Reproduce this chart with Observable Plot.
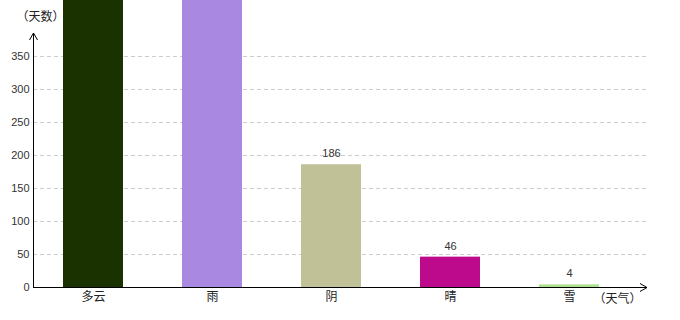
<!DOCTYPE html>
<html>
<head>
<meta charset="utf-8">
<script src="https://cdn.jsdelivr.net/npm/d3@7"></script>
<script src="https://cdn.jsdelivr.net/npm/@observablehq/plot@0.6"></script>
<style>
  html, body { margin: 0; padding: 0; background: #fff; }
  #chart { width: 680px; height: 320px; }
</style>
</head>
<body>
<div id="chart"></div>
<script>
const categories = ["多云", "雨", "阴", "晴", "雪"];
const days = [620, 480, 186, 46, 4];
const colors = ["#1a3200", "#a988e2", "#c1c198", "#bd0a8c", "#ade08e"];
const yTicks = [0, 50, 100, 150, 200, 250, 300, 350];
const yTitle = "（天数）";
const xTitle = "（天气）";

const yMax = 350;
const data = categories.map((c, i) => ({ c, v: days[i] }));
const cjk = "'Noto Sans CJK SC', sans-serif";

const plot = Plot.plot({
  width: 680,
  height: 320,
  marginLeft: 33,
  marginRight: 52,
  marginTop: 56,
  marginBottom: 33,
  style: { fontFamily: "'Liberation Sans', sans-serif", fontSize: "11px", color: "#333", background: "#fff" },
  x: { domain: categories, paddingInner: 0.5, paddingOuter: 0.25, label: null },
  y: { domain: [0, yMax], ticks: yTicks, label: null },
  color: { domain: categories, range: colors },
  marks: [
    Plot.ruleY(yTicks.slice(1), { stroke: "#cccccc", strokeDasharray: "4,3", insetRight: -18 }),
    Plot.barY(data, { x: "c", y: "v", fill: "c" }),
    // value labels of bars running past the top of the chart lie outside the picture, as in the reference
    Plot.text(data.filter(d => d.v <= yMax), { x: "c", y: "v", text: d => String(d.v), dy: -11, fill: "#333", fontSize: 11 }),
    Plot.axisY({ ticks: yTicks, tickSize: 0, tickPadding: 4, label: null, fill: "#333" }),
    Plot.axisX({ tickSize: 0, tickPadding: 5, label: null, fontFamily: cjk, fontSize: 12, fill: "#222" }),
    Plot.text([yTitle], { frameAnchor: "top-left", textAnchor: "start", dx: -17, dy: -44, fontFamily: cjk, fontSize: 12, fill: "#222" }),
    Plot.text([xTitle], { frameAnchor: "bottom-right", textAnchor: "end", dx: 13, dy: 15, fontFamily: cjk, fontSize: 12, fill: "#222" })
  ]
});

// Axis lines with arrowheads, positioned from Plot's own scales
const xs = plot.scale("x");
const ys = plot.scale("y");
const x0 = xs.range[0];
const xEnd = xs.range[1] + 19;
const y0 = ys.apply(0);
const yTop = ys.apply(yMax) - 23;
const svg = d3.select(plot);
const g = svg.append("g").attr("stroke", "#000").attr("fill", "none").attr("stroke-width", 1);
g.append("line").attr("x1", x0).attr("x2", xEnd).attr("y1", y0 + 0.5).attr("y2", y0 + 0.5);
g.append("line").attr("x1", x0 + 0.5).attr("x2", x0 + 0.5).attr("y1", y0).attr("y2", yTop);
g.append("path").attr("d", `M${x0 - 3.5},${yTop + 7}L${x0 + 0.5},${yTop}L${x0 + 4.5},${yTop + 7}`);
g.append("path").attr("d", `M${xEnd - 7},${y0 - 3.5}L${xEnd},${y0 + 0.5}L${xEnd - 7},${y0 + 4.5}`);

document.getElementById("chart").appendChild(plot);
</script>
</body>
</html>
